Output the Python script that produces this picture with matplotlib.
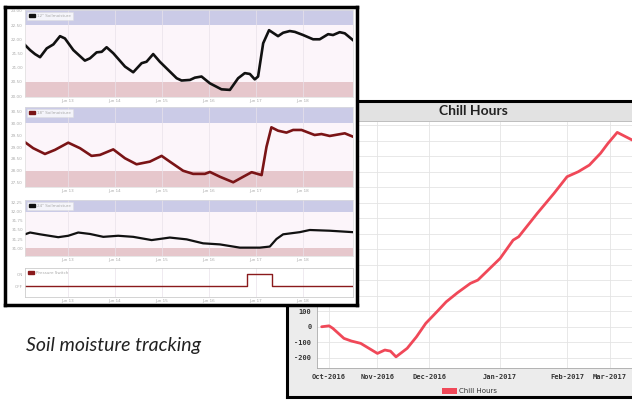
import matplotlib
matplotlib.use("Agg")
import matplotlib.pyplot as plt
import numpy as np
from matplotlib.patches import Rectangle, Patch

W, H = 632, 400

# ---------------- Chill Hours data ----------------
chill_days = [-4, 0, 2, 8, 12, 17, 26, 30, 33, 36, 42, 47, 52, 58, 63, 69, 76, 80,
              92, 99, 102, 112, 121, 128, 134, 140, 146, 150, 155, 163]
chill_values = [0, 6, -10, -75, -92, -107, -172, -150, -157, -194, -139, -65, 22, 97,
                161, 219, 280, 301, 441, 559, 581, 732, 861, 968, 1000, 1043, 1119,
                1183, 1254, 1205]
chill_tick_days = [0, 26, 54, 92, 128, 151]
chill_tick_labels = ["Oct-2016", "Nov-2016", "Dec-2016", "Jan-2017", "Feb-2017", "Mar-2017"]

# ---------------- Soil moisture data (hours) ----------------
s1_hours = [0, 2.6, 5.1, 7.7, 11.1, 14.5, 17.9, 20.4, 24.7, 30.6, 33.2, 36.6, 39.2, 41.7,
            45.1, 51.1, 55.3, 59.6, 62.1, 65.5, 68.9, 77.5, 80.0, 84.3, 86.8, 90.2, 94.5,
            100.4, 104.7, 108.9, 112.3, 114.9, 117.4, 119.1, 121.7, 124.7, 129.3, 131.9,
            135.3, 137.9, 142.1, 147.2, 150.6, 154.9, 157.4, 160.8, 163.4, 167.6]
s1_values = [21.80, 21.62, 21.48, 21.37, 21.68, 21.82, 22.11, 22.03, 21.62, 21.25, 21.33,
             21.54, 21.56, 21.72, 21.51, 21.04, 20.84, 21.16, 21.21, 21.48, 21.21, 20.63,
             20.55, 20.57, 20.65, 20.69, 20.45, 20.24, 20.22, 20.63, 20.81, 20.78, 20.59,
             20.69, 21.86, 22.32, 22.11, 22.23, 22.29, 22.26, 22.15, 22.00, 22.00, 22.18,
             22.15, 22.25, 22.21, 21.97]

s2_hours = [0, 4.2, 10.2, 15.3, 22.1, 28.1, 34.0, 38.3, 45.1, 51.1, 57.0, 63.8, 69.8, 74.0,
            80.8, 85.9, 91.9, 94.5, 99.6, 106.4, 111.5, 115.8, 120.9, 123.4, 125.9, 129.3,
            133.6, 137.0, 141.3, 148.0, 151.5, 155.7, 163.4, 167.6]
s2_values = [29.20, 28.95, 28.71, 28.88, 29.18, 28.95, 28.63, 28.67, 28.90, 28.53, 28.28,
             28.39, 28.63, 28.39, 28.01, 27.88, 27.88, 27.96, 27.76, 27.53, 27.76, 27.95,
             27.83, 29.01, 29.82, 29.68, 29.60, 29.71, 29.71, 29.50, 29.54, 29.46, 29.57,
             29.43]

s3_hours = [0, 2.6, 7.7, 17.0, 22.1, 27.2, 33.2, 40.0, 47.6, 55.3, 64.7, 74.0, 82.6, 91.0,
            99.6, 109.8, 120.0, 125.1, 128.5, 131.9, 140.4, 145.5, 155.7, 167.6]
s3_values = [31.38, 31.43, 31.38, 31.30, 31.34, 31.43, 31.39, 31.31, 31.34, 31.31, 31.22,
             31.29, 31.24, 31.13, 31.10, 31.01, 31.01, 31.04, 31.25, 31.38, 31.44, 31.50,
             31.48, 31.44]

switch_hours = [0, 113.5, 126.0, 167.6]
switch_states = [0, 1, 0, 0]

left_tick_hours = [22, 46, 70, 94, 118, 142]
left_tick_labels = ["Jun 13", "Jun 14", "Jun 15", "Jun 16", "Jun 17", "Jun 18"]

series_labels = ['12" Soilmoisture', '18" Soilmoisture', '24" Soilmoisture', 'Pressure Switch']

# ---------------- figure ----------------
fig = plt.figure(figsize=(W / 100, H / 100), dpi=100)
fig.patch.set_facecolor("white")


def box(x0, y0, x1, y1):
    return [x0 / W, 1 - y1 / H, (x1 - x0) / W, (y1 - y0) / H]


# Chill chart frame
fr = fig.add_axes(box(287, 101, 645, 397), zorder=0)
fr.set_facecolor("#ececec")
fr.set_xticks([]); fr.set_yticks([])
fr.set_xlim(0, 1); fr.set_ylim(0, 1)
for s in fr.spines.values():
    s.set_color("black"); s.set_linewidth(2.2)
fr.add_patch(Rectangle((0, 1 - 20 / 296), 1, 20 / 296, facecolor="#e2e2e2",
                       edgecolor="#b8b8b8", lw=0.6))
fr.text((473 - 287) / 358, (397 - 111) / 296, "Chill Hours", ha="center", va="center",
        fontsize=10, fontweight="bold", family="Lato", color="#222222")

chill_color = "#f04858"
ax = fig.add_axes(box(317, 122, 660, 368), zorder=1)
ax.set_facecolor("white")
ax.plot(chill_days, chill_values, color=chill_color, lw=2.0, solid_joinstyle="round",
        solid_capstyle="round")
ax.set_xlim(-6.5, 178)
ax.set_ylim(-266, 1321)
ax.set_xticks(chill_tick_days)
ax.set_xticklabels(chill_tick_labels)
yt = list(range(-200, 1400, 100))
ax.set_yticks(yt)
ax.set_yticklabels([str(v) if v <= 100 else "" for v in yt])
ax.grid(color="#e4e4e4", lw=0.6)
ax.set_axisbelow(True)
ax.tick_params(length=0, labelsize=5, pad=4, colors="#333333")
for lab in ax.get_xticklabels() + ax.get_yticklabels():
    lab.set_family("DejaVu Sans Mono"); lab.set_fontweight("bold")
for k in ("top", "right"):
    ax.spines[k].set_visible(False)
for k in ("left", "bottom"):
    ax.spines[k].set_color("#aaaaaa"); ax.spines[k].set_linewidth(0.6)

fig.add_artist(Rectangle((442 / W, 1 - 394 / H), 15 / W, 6 / H, transform=fig.transFigure,
                         facecolor=chill_color, edgecolor="none"))
fig.text(459 / W, 1 - 391 / H, "Chill Hours", fontsize=5, va="center", ha="left",
         color="#333333")

# Left composite frame
lf = fig.add_axes(box(5, 7, 357, 305), zorder=2)
lf.set_facecolor("white")
lf.set_xticks([]); lf.set_yticks([])
for s in lf.spines.values():
    s.set_color("black"); s.set_linewidth(2.5)

lav = "#cbcbe7"
mid = "#fcf5fa"
pink = "#e6c7cc"


def soil_panel(rect, hours, values, color, lw, ylim, hi, lo, ystep, label, fmt):
    p = fig.add_axes(rect, zorder=3)
    p.set_facecolor("white")
    p.axhspan(hi, ylim[1], color=lav, lw=0)
    p.axhspan(lo, hi, color=mid, lw=0)
    p.axhspan(ylim[0], lo, color=pink, lw=0)
    p.plot(hours, values, color=color, lw=lw, solid_joinstyle="round")
    p.set_xlim(0, 167.6)
    p.set_ylim(*ylim)
    p.set_xticks(left_tick_hours)
    p.set_xticklabels(left_tick_labels)
    ticks = np.arange(round(ylim[0] / ystep + 0.5) * ystep, ylim[1], ystep)
    p.set_yticks(ticks)
    p.set_yticklabels([fmt % t for t in ticks])
    p.grid(axis="x", color="#e9e2ea", lw=0.5)
    p.tick_params(length=0, labelsize=3, pad=1.5, colors="#aaaaaa")
    for s in p.spines.values():
        s.set_color("#dddddd"); s.set_linewidth(0.5)
    leg = p.legend(handles=[Patch(facecolor=color, edgecolor=color)], labels=[label],
                   loc="upper left", fontsize=3, frameon=True, handlelength=1.4,
                   handleheight=0.9, borderpad=0.5, borderaxespad=0.4, fancybox=False,
                   handletextpad=0.6)
    leg.get_frame().set_edgecolor("#dddddd"); leg.get_frame().set_linewidth(0.4)
    for t in leg.get_texts():
        t.set_color("#aaaaaa")
    return p


soil_panel(box(25, 10, 353, 97), s1_hours, s1_values, "#111111", 1.9,
           (19.97, 23.03), 22.5, 20.5, 0.5, series_labels[0], "%.2f")
soil_panel(box(25, 107, 353, 187), s2_hours, s2_values, "#7a1416", 1.9,
           (27.333, 30.667), 30.0, 28.0, 0.5, series_labels[1], "%.2f")
soil_panel(box(25, 200, 353, 256), s3_hours, s3_values, "#111111", 1.6,
           (30.778, 32.333), 32.0, 31.0, 0.25, series_labels[2], "%.2f")

p4 = fig.add_axes(box(25, 268, 353, 297), zorder=3)
p4.set_facecolor("white")
p4.step(switch_hours, switch_states, where="post", color="#8a1a1c", lw=1.0)
p4.set_xlim(0, 167.6)
p4.set_ylim(-0.94, 1.54)
p4.set_xticks(left_tick_hours)
p4.set_xticklabels(left_tick_labels)
p4.set_yticks([0, 1])
p4.set_yticklabels(["OFF", "ON"])
p4.grid(axis="x", color="#e9e2ea", lw=0.5)
p4.tick_params(length=0, labelsize=3, pad=1.5, colors="#aaaaaa")
for s in p4.spines.values():
    s.set_color("#cccccc"); s.set_linewidth(0.6)
leg = p4.legend(handles=[Patch(facecolor="#8a1a1c", edgecolor="#8a1a1c")],
                labels=[series_labels[3]], loc="upper left", fontsize=3, frameon=False,
                handlelength=1.4, handleheight=0.9, borderpad=0.4, borderaxespad=0.3,
                handletextpad=0.6)
for t in leg.get_texts():
    t.set_color("#aaaaaa")

# caption
fig.text(26 / W, 1 - 346 / H, "Soil moisture tracking", fontsize=14, style="italic",
         family="Lato", va="center", ha="left", color="#222222")

fig.savefig("out.png", dpi=100)
